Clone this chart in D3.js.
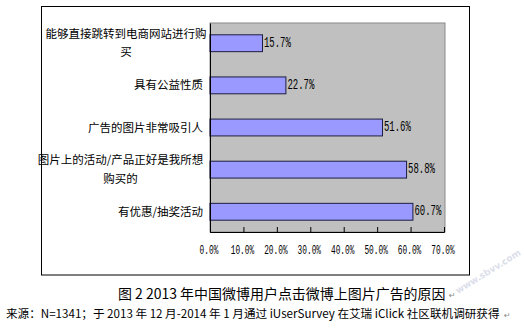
<!DOCTYPE html>
<html>
<head>
<meta charset="utf-8">
<script src="https://cdn.jsdelivr.net/npm/d3@7"></script>
<style>
  html, body { margin: 0; padding: 0; background: #fff; }
  svg { display: block; }
</style>
</head>
<body>
<svg id="chart" width="524" height="332"></svg>
<script>
// Reasons for clicking image ads on Weibo (share of respondents, %)
const categories = [
  "能够直接跳转到电商网站进行购买",
  "具有公益性质",
  "广告的图片非常吸引人",
  "图片上的活动/产品正好是我所想购买的",
  "有优惠/抽奖活动"
];
const categoryLines = [
  ["能够直接跳转到电商网站进行购", "买"],
  ["具有公益性质"],
  ["广告的图片非常吸引人"],
  ["图片上的活动/产品正好是我所想", "购买的"],
  ["有优惠/抽奖活动"]
];
const values = [15.7, 22.7, 51.6, 58.8, 60.7];
const tickValues = [0, 10, 20, 30, 40, 50, 60, 70];
const tickLabels = ["0.0%", "10.0%", "20.0%", "30.0%", "40.0%", "50.0%", "60.0%", "70.0%"];
const caption = "图 2 2013 年中国微博用户点击微博上图片广告的原因";
const source = "来源：N=1341；于 2013 年 12 月-2014 年 1 月通过 iUserSurvey 在艾瑞 iClick 社区联机调研获得";

const svg = d3.select("#chart");
const cjk = "'Noto Sans CJK SC', 'Noto Sans', sans-serif";
const mono = "'Liberation Mono', 'DejaVu Sans Mono', monospace";

// outer frame
svg.append("rect")
  .attr("x", 41.5).attr("y", 6.5)
  .attr("width", 428).attr("height", 268.5)
  .attr("fill", "#fff").attr("stroke", "#000").attr("stroke-width", 1);

const plot = { left: 210, right: 445, top: 23, bottom: 232 };

const x = d3.scaleLinear().domain([0, 70]).range([plot.left, 444]);
const y = d3.scaleBand().domain(categories)
  .range([plot.top, plot.bottom])
  .paddingInner(0.6).paddingOuter(0.28);

// plot background
svg.append("rect")
  .attr("x", plot.left).attr("y", plot.top)
  .attr("width", plot.right - plot.left).attr("height", plot.bottom - plot.top)
  .attr("fill", "#c0c0c0").attr("stroke", "#8a8a8a").attr("stroke-width", 1);

// bars
svg.append("g").selectAll("rect")
  .data(values)
  .join("rect")
  .attr("x", x(0))
  .attr("y", (d, i) => y(categories[i]))
  .attr("width", d => x(d) - x(0))
  .attr("height", y.bandwidth())
  .attr("fill", "#9999ff")
  .attr("stroke", "#1e1e40")
  .attr("stroke-width", 1);

// axes
const xAxis = d3.axisBottom(x).tickValues(tickValues).tickSize(-5).tickFormat(() => "");
const gx = svg.append("g").attr("transform", `translate(0,${plot.bottom})`).call(xAxis);
gx.select(".domain").attr("stroke", "#000");
gx.selectAll(".tick line").attr("stroke", "#000");

const yAxis = d3.axisLeft(y).tickSize(0).tickFormat(() => "");
const gy = svg.append("g").attr("transform", `translate(${plot.left},0)`).call(yAxis);
gy.select(".domain").attr("stroke", "#000");

// narrow, tall numeric text
function narrowText(g, px, py, str, size, sx, anchor) {
  const t = g.append("g").attr("transform", `translate(${px},${py}) scale(${sx},1)`);
  t.append("text")
    .attr("x", 0).attr("y", 0)
    .attr("text-anchor", anchor)
    .attr("dominant-baseline", "central")
    .attr("font-family", mono)
    .attr("font-size", size)
    .attr("fill", "#000")
    .text(str);
}

// tick labels
const tl = svg.append("g");
tickValues.forEach((v, i) => narrowText(tl, x(v) - 1, 250, tickLabels[i], 13.5, 0.58, "middle"));

// value labels
const vl = svg.append("g");
values.forEach((v, i) => narrowText(vl, x(v) + 1.5, y(categories[i]) + y.bandwidth() / 2, v.toFixed(1) + "%", 14, 0.64, "start"));

// category labels, multi-line blocks right-aligned with centred lines
const cl = svg.append("g");
categoryLines.forEach((lines, i) => {
  const cy = y(categories[i]) + y.bandwidth() / 2 - 1;
  const lh = 18.5;
  const blockW = d3.max(lines, s => s.length) * 11;
  const cx = 203 - blockW / 2;
  lines.forEach((s, j) => {
    cl.append("text")
      .attr("x", lines.length > 1 ? cx : 203)
      .attr("y", cy + (j - (lines.length - 1) / 2) * lh)
      .attr("text-anchor", lines.length > 1 ? "middle" : "end")
      .attr("dominant-baseline", "central")
      .attr("font-family", cjk)
      .attr("font-size", 11.5)
      .attr("fill", "#000")
      .text(s);
  });
});

// text sized so its natural width fills a given span
function fittedText(px, py, str, baseSize, span) {
  const t = svg.append("text")
    .attr("x", px).attr("y", py)
    .attr("dominant-baseline", "central")
    .attr("font-family", cjk).attr("font-size", baseSize)
    .attr("fill", "#000")
    .text(str);
  const w = t.node().getComputedTextLength();
  if (w > 0) t.attr("font-size", baseSize * span / w);
  return t;
}

// caption
fittedText(118, 293, caption, 13, 328);
svg.append("text")
  .attr("x", 449).attr("y", 295)
  .attr("dominant-baseline", "central")
  .attr("font-family", "'DejaVu Sans', sans-serif").attr("font-size", 8)
  .attr("fill", "#888")
  .text("↵");

// source line
fittedText(6, 313, source, 12, 494);
svg.append("text")
  .attr("x", 504).attr("y", 315)
  .attr("dominant-baseline", "central")
  .attr("font-family", "'DejaVu Sans', sans-serif").attr("font-size", 8)
  .attr("fill", "#888")
  .text("↵");

// faint site mark
svg.append("text")
  .attr("transform", "translate(458,294) rotate(-32)")
  .attr("font-family", "'DejaVu Sans', sans-serif").attr("font-size", 9)
  .attr("font-weight", "bold")
  .attr("fill", "#9aa4c4").attr("opacity", 0.35)
  .text("www.sbvv.com");
</script>
</body>
</html>
